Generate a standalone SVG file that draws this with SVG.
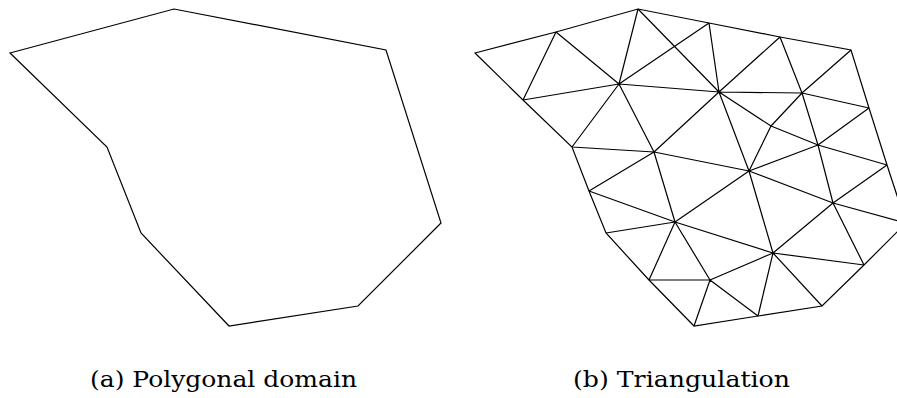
<svg xmlns="http://www.w3.org/2000/svg" width="897" height="398" viewBox="0 0 897 398">
<style>
.ln{fill:none;stroke:#000;stroke-width:1.2;stroke-linejoin:miter}
</style>
<rect width="897" height="398" fill="#fff"/>
<g id="polygon">
<polygon class="ln" points="10,53 174,9 386,50 441,223 358,306 229,326 141,233 107,147"/>
</g>
<g id="triangulation">
<polygon class="ln" points="475,53 556,32 638,9 709,23 780,37 851,50 869,108 887,165 906,223 864,265 822,306 758,316 694,326 649,280 606,233 589,191 572,147 523,100"/>
<path class="ln" d="
M556,32L523,100 M556,32L619,84 M523,100L619,84 M638,9L619,84 M619,84L572,147 M619,84L654,152 M572,147L654,152
M619,84L719,92 M619,84L709,23 M638,9L719,92 M709,23L719,92 M719,92L780,37 M719,92L802,93 M719,92L654,152 M719,92L749,171 M719,92L771,126
M780,37L802,93 M851,50L802,93 M802,93L869,108 M802,93L771,126 M802,93L818,145 M771,126L818,145 M771,126L749,171
M869,108L818,145 M818,145L887,165 M818,145L749,171 M818,145L833,203 M887,165L833,203 M833,203L906,223 M833,203L864,265 M833,203L749,171 M833,203L773,253
M749,171L773,253 M749,171L654,152 M749,171L675,222 M654,152L675,222 M654,152L589,191 M589,191L675,222 M606,233L675,222 M675,222L649,280 M675,222L710,280 M649,280L710,280 M710,280L694,326
M675,222L773,253 M710,280L773,253 M710,280L758,316 M773,253L758,316 M773,253L822,306 M773,253L864,265"/>
</g>
<g id="captions" font-family="'DejaVu Serif', 'Liberation Serif', serif" font-size="23" fill="#000">
<text x="90" y="387" textLength="267" lengthAdjust="spacingAndGlyphs">(a) Polygonal domain</text>
<text x="573" y="387" textLength="217" lengthAdjust="spacingAndGlyphs">(b) Triangulation</text>
</g>
</svg>
